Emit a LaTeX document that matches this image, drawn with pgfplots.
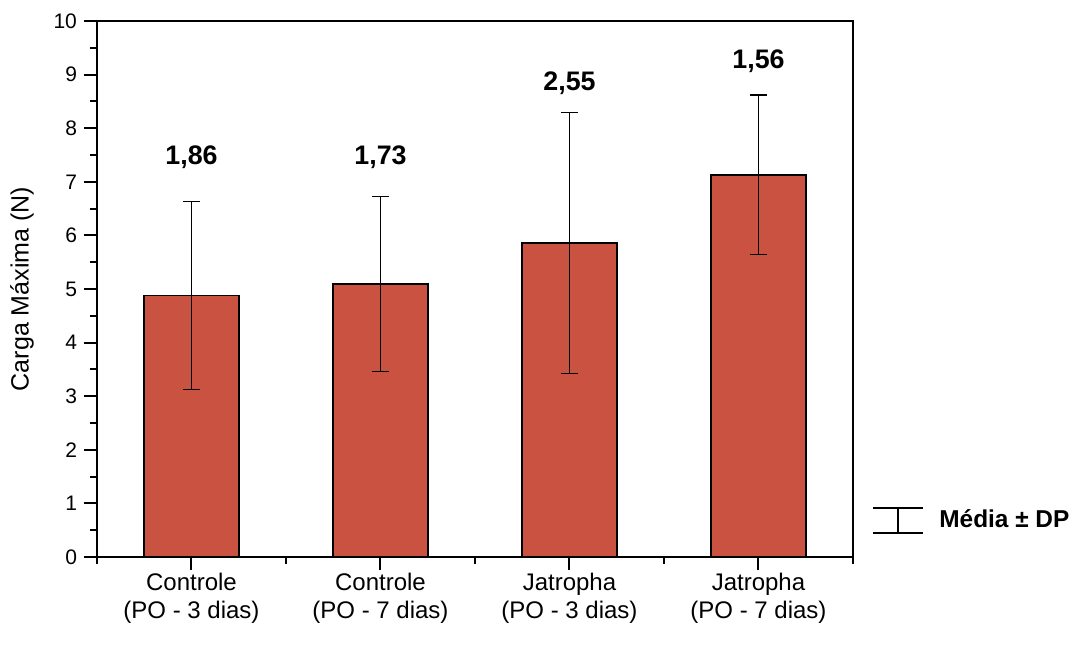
\documentclass[border=0pt]{standalone}
\usepackage{fontspec}
\setmainfont{Liberation Sans}
\usepackage{pgfplots}
\pgfplotsset{compat=1.18}
\usepackage{pgfplotstable}
\definecolor{barred}{RGB}{201,83,64}

\pgfplotstableread{
x y err
1 4.88 1.75
2 5.09 1.63
3 5.86 2.43
4 7.13 1.49
}\bars

\pgfplotstableread{
x y lab
1 7.46 {1,86}
2 7.46 {1,73}
3 8.83 {2,55}
4 9.25 {1,56}
}\labs

\begin{document}
\begin{tikzpicture}
\path (-48.5pt,-51pt) rectangle (487.5pt,278.5pt);
\begin{axis}[
  at={(0,0)}, anchor=south west,
  scale only axis, width=378pt, height=268pt,
  xmin=0.5, xmax=4.5, ymin=0, ymax=10,
  axis line style={line width=1pt},
  xtick={1,2,3,4},
  xticklabels={{Controle\\(PO - 3 dias)},{Controle\\(PO - 7 dias)},{Jatropha\\(PO - 3 dias)},{Jatropha\\(PO - 7 dias)}},
  minor xtick={0.5,1.5,2.5,3.5,4.5},
  ytick={0,1,...,10},
  minor ytick={0.5,1.5,...,9.5},
  tick align=outside, tick pos=left,
  major tick length=6.5pt, minor tick length=3.5pt,
  every tick/.style={black, line width=1pt},
  xticklabel style={align=center, font=\fontsize{12}{14}\selectfont, yshift=2pt},
  yticklabel style={font=\fontsize{10.5}{12}\selectfont},
  /pgf/number format/assume math mode=true,
  ylabel={Carga Máxima (N)},
  every axis y label/.style={at={(axis description cs:0,0.5)}, xshift=-37.5pt, rotate=90, anchor=center, font=\fontsize{12.5}{14}\selectfont},
  clip=false,
  legend style={draw=none, fill=none, at={(axis description cs:1,0)}, anchor=west, xshift=9.5pt, yshift=18.4pt, inner sep=0pt, font=\bfseries\fontsize{12.2}{14}\selectfont, column sep=7.5pt, nodes={inner sep=0pt}},
]
\addplot[ybar, bar width=47.5pt, fill=barred, draw=black, line width=0.7pt, forget plot,
  error bars/.cd, y dir=both, y explicit,
  error bar style={line width=0.6pt, black},
  error mark options={rotate=90, line width=0.6pt, mark size=4.25pt, black}]
  table[x=x, y=y, y error=err]{\bars};
\addplot[draw=none, mark=none, forget plot, nodes near coords, point meta=explicit symbolic,
  every node near coord/.append style={anchor=center, font=\bfseries\fontsize{13.4}{15}\selectfont, text=black}]
  table[x=x, y=y, meta=lab]{\labs};
\addlegendimage{legend image code/.code={\draw[line width=1pt] (0pt,6.25pt)--(25pt,6.25pt) (0pt,-6.25pt)--(25pt,-6.25pt) (12.5pt,-6.25pt)--(12.5pt,6.25pt);}}
\addlegendentry{Média ± DP}
\end{axis}
\end{tikzpicture}
\end{document}
